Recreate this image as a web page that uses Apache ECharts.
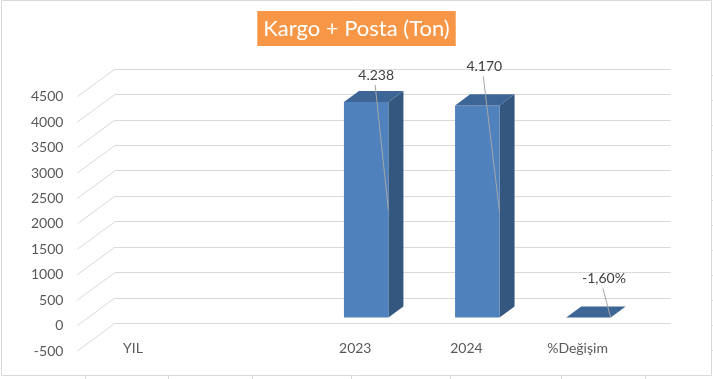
<!DOCTYPE html>
<html>
<head>
<meta charset="utf-8">
<script src="https://cdn.jsdelivr.net/npm/echarts@6/dist/echarts.min.js"></script>
<style>
html,body{margin:0;padding:0;background:#fff;}
#chart{width:713px;height:379px;}
</style>
</head>
<body>
<div id="chart"></div>
<script>
// ---- data ----
const categories = ['YIL', '', '2023', '2024', '%Değişim'];
const values = [null, null, 4238, 4170, -0.016];
const valueLabels = [null, null, '4.238', '4.170', '-1,60%'];
const yTicks = [-500, 0, 500, 1000, 1500, 2000, 2500, 3000, 3500, 4000, 4500];
const titleText = 'Kargo + Posta (Ton)';

// ---- layout / style constants ----
const FONT = 'Lato, "Open Sans", sans-serif';
const DX = -37.6, DY = 27.7;          // depth vector (back wall -> front edge)
const D_FRONT = 0.71, D_BACK = 0.31;  // bar depth position
const BAR_W = 0.4;                    // bar width as share of category band
const labelShift = [null, null, [10, -27], [7, -39], [15.5, -39]]; // manually placed data labels
const GRID_L = 115, GRID_T = 69, GRID_W = 555.7, GRID_H = 254.3;

const chart = echarts.init(document.getElementById('chart'), null, {renderer: 'canvas'});

function renderWall(params, api) {
  const v = api.value(0);
  const p = api.coord([0, v]);
  const band = api.size([1, 0])[0];
  const x = p[0] - band / 2;
  return {
    type: 'line',
    shape: {x1: x, y1: p[1], x2: x + DX, y2: p[1] + DY},
    style: {stroke: '#D9D9D9', lineWidth: 1}
  };
}

function renderBar(params, api) {
  const idx = api.value(0);
  const v = api.value(1);
  if (v == null || isNaN(v)) return null;
  const top = api.coord([idx, v]);
  const base = api.coord([idx, 0]);
  const band = api.size([1, 0])[0];
  const w = band * BAR_W;
  const xl = top[0] - w / 2, xr = top[0] + w / 2;
  const fx = DX * D_FRONT, fy = DY * D_FRONT;
  const bx = DX * D_BACK, by = DY * D_BACK;
  const ty = top[1], byy = base[1];
  const children = [];
  children.push({
    type: 'polygon',
    shape: {points: [[xr + fx, ty + fy], [xr + bx, ty + by], [xr + bx, byy + by], [xr + fx, byy + fy]]},
    style: {fill: '#34577F'}
  });
  children.push({
    type: 'rect',
    shape: {x: xl + fx, y: Math.min(ty, byy) + fy, width: w, height: Math.abs(byy - ty)},
    style: {fill: '#4F81BD'}
  });
  children.push({
    type: 'polygon',
    shape: {points: [[xl + fx, ty + fy], [xr + fx, ty + fy], [xr + bx, ty + by], [xl + bx, ty + by]]},
    style: {fill: '#3D6696'}
  });
  const sh = labelShift[idx];
  const txt = valueLabels[idx];
  if (sh && txt) {
    const lx = top[0] + fx + sh[0];
    const ly = ty + fy + sh[1];
    const ex = xr + fx;
    const ey = (ty + byy) / 2 + fy;
    children.push({
      type: 'line',
      shape: {x1: lx - 1, y1: ly + 10, x2: ex, y2: ey},
      style: {stroke: '#A6A6A6', lineWidth: 1}
    });
    children.push({
      type: 'text',
      x: lx, y: ly,
      style: {text: txt, fill: '#404040', fontSize: 14, fontFamily: FONT, align: 'center', verticalAlign: 'middle'}
    });
  }
  return {type: 'group', children: children};
}

const cellGraphics = [];
[85, 168, 252, 351, 450, 561, 645].forEach(x => cellGraphics.push({
  type: 'line', shape: {x1: x + 0.5, y1: 376, x2: x + 0.5, y2: 379}, style: {stroke: '#D9D9D9', lineWidth: 1}, silent: true
}));
for (let y = 75; y <= 350; y += 25) cellGraphics.push({
  type: 'line', shape: {x1: 712, y1: y + 0.5, x2: 713, y2: y + 0.5}, style: {stroke: '#E3E3E3', lineWidth: 1}, silent: true
});

const option = {
  animation: false,
  backgroundColor: '#FFFFFF',
  textStyle: {fontFamily: FONT},
  title: {
    text: titleText,
    left: 'center',
    top: 11,
    backgroundColor: '#F79646',
    padding: [5, 6, 4, 6],
    textStyle: {color: '#FFFFFF', fontSize: 22, fontWeight: 'normal', fontFamily: FONT, lineHeight: 26}
  },
  graphic: [
    {type: 'rect', shape: {x: 1.5, y: 0.5, width: 710, height: 375}, style: {fill: 'none', stroke: '#D9D9D9', lineWidth: 1}, silent: true, z: -1}
  ].concat(cellGraphics),
  grid: [
    {left: GRID_L, top: GRID_T, width: GRID_W, height: GRID_H},
    {left: GRID_L + DX, top: GRID_T + DY, width: GRID_W, height: GRID_H}
  ],
  xAxis: [
    {type: 'category', gridIndex: 0, data: categories, boundaryGap: true,
     axisLine: {show: false}, axisTick: {show: false}, axisLabel: {show: false}, splitLine: {show: false}},
    {type: 'category', gridIndex: 1, data: categories, boundaryGap: true, position: 'bottom',
     axisLine: {show: false}, axisTick: {show: false},
     axisLabel: {show: true, color: '#595959', fontSize: 14, fontFamily: FONT, margin: -10, interval: 0},
     splitLine: {show: false}}
  ],
  yAxis: [
    {type: 'value', gridIndex: 0, min: -500, max: 4500, interval: 500,
     axisLine: {show: false}, axisTick: {show: false}, axisLabel: {show: false},
     splitLine: {show: true, lineStyle: {color: '#D9D9D9', width: 1}}},
    {type: 'value', gridIndex: 1, min: -500, max: 4500, interval: 500,
     axisLine: {show: false}, axisTick: {show: false},
     axisLabel: {show: true, color: '#595959', fontSize: 14, fontFamily: FONT, margin: 14,
                 formatter: v => String(v)},
     splitLine: {show: false}}
  ],
  series: [
    {
      type: 'custom', name: 'wall', xAxisIndex: 0, yAxisIndex: 0,
      data: yTicks.map(v => [v]),
      encode: {y: 0},
      renderItem: renderWall, silent: true, z: 1
    },
    {
      type: 'custom', name: 'Kargo + Posta', xAxisIndex: 0, yAxisIndex: 0,
      data: values.map((v, i) => [i, v]),
      encode: {x: 0, y: 1},
      renderItem: renderBar, z: 3
    }
  ]
};
chart.setOption(option);
</script>
</body>
</html>
